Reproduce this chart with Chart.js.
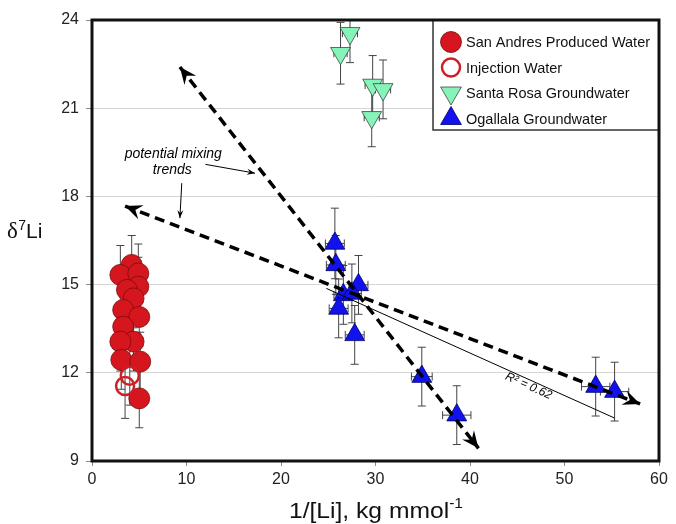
<!DOCTYPE html>
<html lang="en">
<head>
<meta charset="UTF-8">
<title>d7Li vs 1/[Li]</title>
<script src="https://cdn.jsdelivr.net/npm/chart.js"></script>
<style>
    body { margin: 0; background: #fff; }
    #wrap { width: 676px; height: 524px; }
</style>
</head>
<body>
<div id="wrap"><canvas id="chart" width="676" height="524"></canvas></div>
<script>
// San Andres produced water
const sanAndresX = [4.2, 3.0, 4.9, 4.9, 3.7, 4.4, 3.3, 5.0, 3.3, 4.4, 3.0, 3.1, 5.1, 5.0];
const sanAndresY = [15.67, 15.33, 15.38, 14.93, 14.82, 14.53, 14.14, 13.9, 13.57, 13.06, 13.06, 12.44, 12.38, 11.13];
const sanAndresYErr = [1.0, 1.0, 1.0, 1.0, 1.0, 1.0, 1.0, 1.0, 1.0, 1.0, 1.0, 1.0, 1.0, 1.0];

// Injection water
const injectionX = [4.0, 3.5];
const injectionY = [11.9, 11.55];
const injectionYErr = [1.0, 1.1];

// Santa Rosa groundwater
const santaRosaX = [27.3, 26.3, 29.7, 30.8, 29.6];
const santaRosaY = [23.55, 22.87, 21.79, 21.64, 20.69];
const santaRosaXErr = [0.8, 0.7, 0.8, 0.8, 0.8];
const santaRosaYErr = [1.0, 1.05, 1.0, 1.0, 1.0];

// Ogallala groundwater
const ogallalaX = [25.7, 25.8, 28.2, 26.6, 27.5, 26.1, 27.8, 34.9, 38.6, 53.3, 55.3];
const ogallalaY = [16.4, 15.67, 14.99, 14.65, 14.7, 14.19, 13.29, 11.87, 10.56, 11.53, 11.36];
const ogallalaXErr = [1.0, 1.0, 1.0, 1.0, 1.0, 1.0, 1.0, 1.1, 1.5, 1.5, 1.5];
const ogallalaYErr = [1.2, 1.0, 1.0, 1.0, 1.0, 1.0, 1.0, 1.0, 1.0, 1.0, 1.0];

// mixing trends and regression line (endpoints in data units)
const steepTrend = [[9.3, 22.4], [40.9, 9.43]];
const shallowTrend = [[3.5, 17.67], [58.0, 10.94]];
const fitLine = [[24.8, 14.87], [55.3, 10.46]];
const fitLabel = 'R² = 0.62';
const fitLabelAt = [46.2, 11.55];

// "potential mixing trends" note and its pointers
const noteLines = ['potential mixing', 'trends'];
const noteAt = [[8.6, 19.44], [8.5, 18.9]];
const notePointers = [[[12.0, 19.09], [17.25, 18.79]], [[9.5, 18.45], [9.3, 17.26]]];

const xTicks = [0, 10, 20, 30, 40, 50, 60];
const yTicks = [9, 12, 15, 18, 21, 24];

const FONT = '"Liberation Sans", Arial, sans-serif';

function toPoints(xs, ys) {
    return xs.map((x, i) => ({ x: x, y: ys[i] }));
}
function linePts(seg) {
    return seg.map(p => ({ x: p[0], y: p[1] }));
}

function arrowHead(ctx, x1, y1, x2, y2, len, wid) {
    const a = Math.atan2(y2 - y1, x2 - x1);
    ctx.save();
    ctx.translate(x2, y2);
    ctx.rotate(a);
    ctx.beginPath();
    ctx.moveTo(0, 0);
    ctx.lineTo(-len, -wid / 2);
    ctx.lineTo(-len * 0.65, 0);
    ctx.lineTo(-len, wid / 2);
    ctx.closePath();
    ctx.fill();
    ctx.restore();
}

// error bars, arrows, notes, legend, frame and axis titles
const extras = {
    id: 'extras',
    beforeDatasetsDraw(chart) {
        const ctx = chart.ctx;
        const xs = chart.scales.x, ys = chart.scales.y;
        const area = chart.chartArea;
        ctx.save();
        ctx.beginPath();
        ctx.rect(area.left, area.top, area.right - area.left, area.bottom - area.top);
        ctx.clip();
        ctx.strokeStyle = '#444';
        ctx.lineWidth = 1;
        chart.data.datasets.forEach(ds => {
            if (!ds.yErr) return;
            ds.data.forEach((p, i) => {
                const px = xs.getPixelForValue(p.x), py = ys.getPixelForValue(p.y);
                const e = ds.yErr[i];
                const top = ys.getPixelForValue(p.y + e), bot = ys.getPixelForValue(p.y - e);
                ctx.beginPath();
                ctx.moveTo(px, top); ctx.lineTo(px, bot);
                ctx.moveTo(px - 4, top); ctx.lineTo(px + 4, top);
                ctx.moveTo(px - 4, bot); ctx.lineTo(px + 4, bot);
                if (ds.xErr) {
                    const l = xs.getPixelForValue(p.x - ds.xErr[i]), r = xs.getPixelForValue(p.x + ds.xErr[i]);
                    ctx.moveTo(l, py); ctx.lineTo(r, py);
                    ctx.moveTo(l, py - 4); ctx.lineTo(l, py + 4);
                    ctx.moveTo(r, py - 4); ctx.lineTo(r, py + 4);
                }
                ctx.stroke();
            });
        });
        ctx.restore();
    },
    afterDatasetsDraw(chart) {
        const ctx = chart.ctx;
        const xs = chart.scales.x, ys = chart.scales.y;
        const P = p => [xs.getPixelForValue(p[0]), ys.getPixelForValue(p[1])];
        ctx.save();
        ctx.fillStyle = '#000';
        [steepTrend, shallowTrend].forEach(seg => {
            const a = P(seg[0]), b = P(seg[1]);
            arrowHead(ctx, a[0], a[1], b[0], b[1], 17, 15);
            arrowHead(ctx, b[0], b[1], a[0], a[1], 17, 15);
        });

        // note pointers
        ctx.strokeStyle = '#000';
        ctx.lineWidth = 1;
        notePointers.forEach(seg => {
            const a = P(seg[0]), b = P(seg[1]);
            ctx.beginPath(); ctx.moveTo(a[0], a[1]); ctx.lineTo(b[0], b[1]); ctx.stroke();
            arrowHead(ctx, a[0], a[1], b[0], b[1], 8, 6);
        });
        ctx.font = 'italic 14px ' + FONT;
        ctx.textAlign = 'center';
        ctx.textBaseline = 'middle';
        noteLines.forEach((t, i) => {
            const p = P(noteAt[i]);
            ctx.fillText(t, p[0], p[1]);
        });

        // R² label along the fit line
        const f0 = P(fitLine[0]), f1 = P(fitLine[1]);
        const ang = Math.atan2(f1[1] - f0[1], f1[0] - f0[0]);
        const lp = P(fitLabelAt);
        ctx.save();
        ctx.translate(lp[0], lp[1]);
        ctx.rotate(ang);
        ctx.font = 'italic 12px ' + FONT;
        ctx.fillText(fitLabel, 0, 0);
        ctx.restore();

        // legend
        const area = chart.chartArea;
        const lx = 433, ly = area.top, lw = area.right - 433, lh = 110;
        ctx.fillStyle = '#fff';
        ctx.fillRect(lx, ly, lw, lh);
        ctx.strokeStyle = '#333';
        ctx.lineWidth = 1.5;
        ctx.strokeRect(lx, ly, lw, lh);
        const rows = chart.data.datasets.filter(d => d.legendLabel);
        ctx.font = '14.5px ' + FONT;
        ctx.textAlign = 'left';
        ctx.textBaseline = 'middle';
        rows.forEach((d, i) => {
            const cx = 451, cy = 42 + i * 25.5;
            ctx.beginPath();
            if (d.pointStyle === 'triangle') {
                const r = 12, rot = d.rotation ? Math.PI : 0;
                for (let k = 0; k < 3; k++) {
                    const t = rot + k * 2 * Math.PI / 3;
                    const px = cx + Math.sin(t) * r, py = cy - Math.cos(t) * r;
                    if (k === 0) ctx.moveTo(px, py); else ctx.lineTo(px, py);
                }
                ctx.closePath();
            } else {
                ctx.arc(cx, cy, d.pointRadius, 0, Math.PI * 2);
            }
            ctx.fillStyle = d.pointBackgroundColor;
            if (d.pointBackgroundColor !== 'rgba(0,0,0,0)') ctx.fill();
            ctx.strokeStyle = d.pointBorderColor;
            ctx.lineWidth = d.pointBorderWidth;
            ctx.stroke();
            ctx.fillStyle = '#111';
            ctx.fillText(d.legendLabel, 466, cy + 1);
        });

        // frame
        ctx.strokeStyle = '#111';
        ctx.lineWidth = 3;
        ctx.strokeRect(area.left, area.top, area.right - area.left, area.bottom - area.top);
        ctx.restore();
    },
    afterDraw(chart) {
        const ctx = chart.ctx;
        ctx.save();
        ctx.fillStyle = '#111';
        ctx.textBaseline = 'alphabetic';
        ctx.textAlign = 'left';
        // y title: δ7Li
        let x = 7, y = 238;
        ctx.font = '23px "Liberation Serif", serif';
        ctx.fillText('δ', x, y); x += ctx.measureText('δ').width + 0.5;
        ctx.font = '14px ' + FONT;
        ctx.fillText('7', x, y - 8); x += ctx.measureText('7').width;
        ctx.font = '21px ' + FONT;
        ctx.fillText('Li', x, y);
        // x title: 1/[Li], kg mmol-1 (slightly widened like the original)
        const main = '1/[Li], kg mmol';
        const sx = 1.12;
        ctx.font = '22px ' + FONT;
        const w1 = ctx.measureText(main).width * sx;
        ctx.font = '14px ' + FONT;
        const w2 = ctx.measureText('-1').width * sx;
        x = 376 - (w1 + w2) / 2; y = 518;
        ctx.save();
        ctx.translate(x, y);
        ctx.scale(sx, 1);
        ctx.font = '22px ' + FONT;
        ctx.fillText(main, 0, 0);
        ctx.font = '14px ' + FONT;
        ctx.fillText('-1', w1 / sx, -10);
        ctx.restore();
        ctx.restore();
    }
};

const ctx = document.getElementById('chart').getContext('2d');
const chart = new Chart(ctx, {
    type: 'scatter',
    data: {
        datasets: [
            {
                label: 'steep trend', data: linePts(steepTrend), showLine: true,
                borderColor: '#000', borderWidth: 3.5, borderDash: [10, 6], pointRadius: 0, order: 0
            },
            {
                label: 'shallow trend', data: linePts(shallowTrend), showLine: true,
                borderColor: '#000', borderWidth: 3.5, borderDash: [10, 6], pointRadius: 0, order: 0
            },
            {
                label: 'fit', data: linePts(fitLine), showLine: true,
                borderColor: '#000', borderWidth: 1, pointRadius: 0, order: 0
            },
            {
                label: 'San Andres Produced Water', legendLabel: 'San Andres Produced Water',
                data: toPoints(sanAndresX, sanAndresY), yErr: sanAndresYErr,
                pointStyle: 'circle', pointRadius: 10.5,
                pointBackgroundColor: '#d5161e', pointBorderColor: '#7a0c0c', pointBorderWidth: 0.8, order: 2
            },
            {
                label: 'Injection Water', legendLabel: 'Injection Water',
                data: toPoints(injectionX, injectionY), yErr: injectionYErr,
                pointStyle: 'circle', pointRadius: 9,
                pointBackgroundColor: 'rgba(0,0,0,0)', pointBorderColor: '#cc1f26', pointBorderWidth: 2.5, order: 1
            },
            {
                label: 'Santa Rosa Groundwater', legendLabel: 'Santa Rosa Groundwater',
                data: toPoints(santaRosaX, santaRosaY), yErr: santaRosaYErr, xErr: santaRosaXErr,
                pointStyle: 'triangle', rotation: 180, pointRadius: 11.5,
                pointBackgroundColor: '#84f4b8', pointBorderColor: '#444', pointBorderWidth: 0.8, order: 2
            },
            {
                label: 'Ogallala Groundwater', legendLabel: 'Ogallala Groundwater',
                data: toPoints(ogallalaX, ogallalaY), yErr: ogallalaYErr, xErr: ogallalaXErr,
                pointStyle: 'triangle', rotation: 0, pointRadius: 11.5,
                pointBackgroundColor: '#1212ee', pointBorderColor: '#000066', pointBorderWidth: 0.8, order: 2
            }
        ]
    },
    options: {
        responsive: false,
        animation: false,
        layout: { padding: { left: 0, top: 20, right: 17, bottom: 0 } },
        plugins: { legend: { display: false }, tooltip: { enabled: false } },
        scales: {
            x: {
                type: 'linear', min: 0, max: 60,
                afterBuildTicks: s => { s.ticks = xTicks.map(v => ({ value: v })); },
                afterFit: s => { s.height = 63; },
                grid: { drawOnChartArea: false, tickLength: 5, tickColor: '#888' },
                border: { display: false },
                ticks: { color: '#222', font: { size: 16, family: FONT }, padding: 4 }
            },
            y: {
                type: 'linear', min: 9, max: 24,
                afterBuildTicks: s => { s.ticks = yTicks.map(v => ({ value: v })); },
                afterFit: s => { s.width = 92; },
                grid: { color: '#d6d6d6', lineWidth: 1, tickLength: 6, tickColor: '#888' },
                border: { display: false },
                ticks: { color: '#222', font: { size: 16, family: FONT }, padding: 7 }
            }
        }
    },
    plugins: [extras]
});
</script>
</body>
</html>
